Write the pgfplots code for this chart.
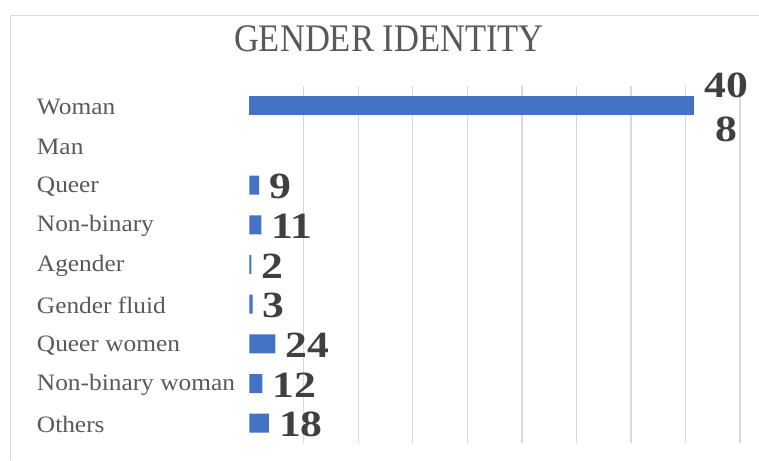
\documentclass[border=0pt]{standalone}
\usepackage{pgfplots}
\pgfplotsset{compat=1.18}
\usepackage{fontspec}
\setmainfont{Liberation Serif}
\newfontfamily\catfont[FakeStretch=1.08]{Liberation Serif}
\newfontfamily\titlefont[FakeStretch=0.886]{Liberation Serif}
\newfontfamily\valfont[FakeStretch=1.18]{Liberation Serif}
\definecolor{barblue}{HTML}{4472C4}
\definecolor{txtgray}{HTML}{595959}
\definecolor{valgray}{HTML}{404040}
\definecolor{gridgray}{HTML}{D9D9D9}
\begin{document}
\begin{tikzpicture}[x=1pt,y=1pt]
\draw[gridgray, line width=1pt] (10.5,-460) -- (10.5,-15.5) -- (759,-15.5);
\node[anchor=base, text=txtgray, inner sep=0pt, font=\titlefont\fontsize{39}{40}\selectfont] at (389,-52) {GENDER IDENTITY};
\begin{axis}[
  at={(249.3pt,-443pt)}, anchor=south west,
  width=490.7pt, height=357pt, scale only axis,
  xbar, bar width=19pt, bar shift=0pt,
  xmin=0, xmax=450,
  ymin=-0.5, ymax=8.5, y dir=reverse,
  ytick={0,...,8},
  yticklabels={Woman,Man,Queer,Non-binary,Agender,Gender fluid,Queer women,Non-binary woman,Others},
  yticklabel style={anchor=west, xshift=-208.3pt, yshift=-1.5pt, text=txtgray, inner xsep=0pt, font=\catfont\fontsize{23.5}{26}\selectfont},
  xtick={50,100,...,450}, xticklabels={},
  xmajorgrids, grid style={gridgray, line width=1.2pt},
  axis line style={draw=none}, tick style={draw=none},
  clip=false,
  /pgf/number format/assume math mode=true,
  point meta=x,
  nodes near coords,
  nodes near coords style={anchor=west, align=center, text=valgray, inner xsep=0pt, xshift=10pt, yshift=-1.5pt,
     font=\valfont\bfseries\fontsize{37}{43.3}\selectfont},
]
\addplot[fill=barblue, draw=none] coordinates {(9,2) (11,3) (2,4) (3,5) (24,6) (12,7) (18,8)};
\addplot[fill=barblue, draw=none, nodes near coords={40\\8}] coordinates {(408,0)};
\end{axis}
\pgfresetboundingbox
\useasboundingbox (0,0) rectangle (759,-460);
\end{tikzpicture}
\end{document}
